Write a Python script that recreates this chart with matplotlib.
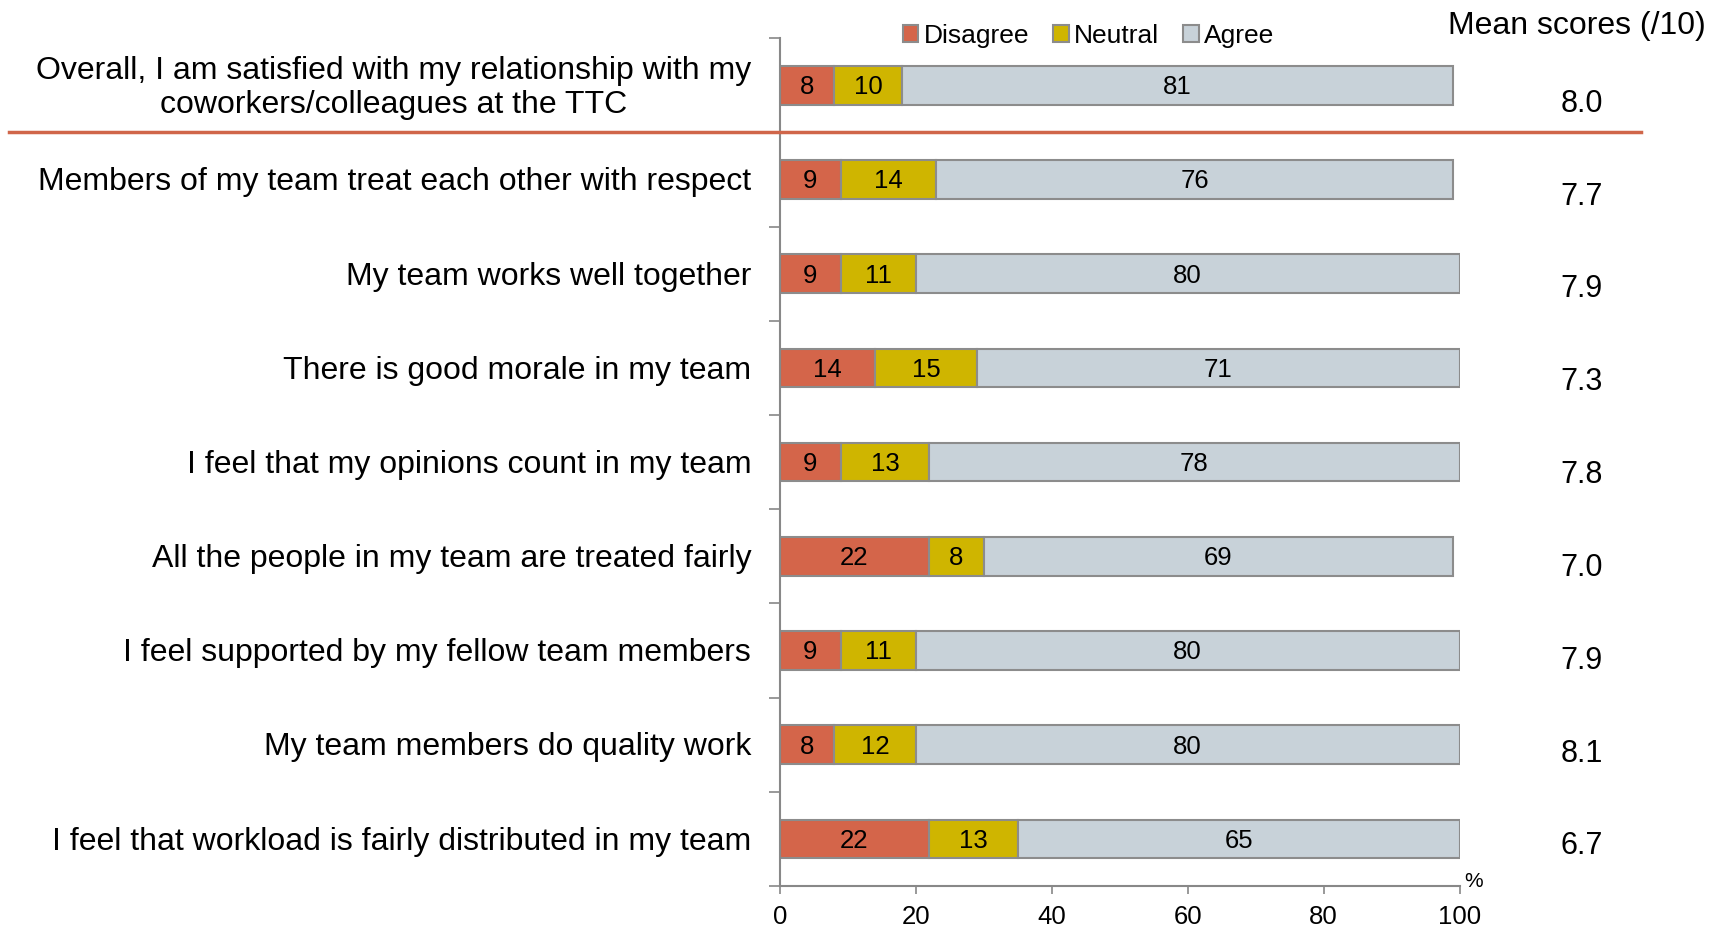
import matplotlib.pyplot as plt
import numpy as np

plt.rcParams['font.family'] = ['Liberation Sans', 'DejaVu Sans']

labels = [
    'Overall, I am satisfied with my relationship with my\ncoworkers/colleagues at the TTC',
    'Members of my team treat each other with respect',
    'My team works well together',
    'There is good morale in my team',
    'I feel that my opinions count in my team',
    'All the people in my team are treated fairly',
    'I feel supported by my fellow team members',
    'My team members do quality work',
    'I feel that workload is fairly distributed in my team',
]
disagree = [8, 9, 9, 14, 9, 22, 9, 8, 22]
neutral = [10, 14, 11, 15, 13, 8, 11, 12, 13]
agree = [81, 76, 80, 71, 78, 69, 80, 80, 65]
means = [8.0, 7.7, 7.9, 7.3, 7.8, 7.0, 7.9, 8.1, 6.7]

series = [('Disagree', disagree, '#D4654A'),
          ('Neutral', neutral, '#CFB500'),
          ('Agree', agree, '#C8D2D9')]

fig = plt.figure(figsize=(17.25, 9.32), dpi=100)
ax = fig.add_axes([0.452, 0.0494, 0.3942, 0.9096])

y = np.arange(len(labels))
left = np.zeros(len(labels))
for name, vals, col in series:
    vals = np.array(vals)
    ax.barh(y, vals, left=left, height=0.41, color=col, edgecolor='#8C8C8C',
            linewidth=1.5, label=name)
    for yi, l, v in zip(y, left, vals):
        ax.text(l + v / 2, yi + 0.02, str(v), ha='center', va='center', fontsize=18.5, color='black')
    left += vals

ax.set_ylim(len(labels) - 0.5, -0.5)
ax.set_xlim(0, 100)
ax.set_xticks([0, 20, 40, 60, 80, 100])
ax.tick_params(axis='x', labelsize=18.5, length=6, width=1.2, color='#888888', pad=8)
ax.set_yticks(np.arange(len(labels) + 1) - 0.5, minor=False)
ax.set_yticklabels([])
ax.tick_params(axis='y', length=8, width=1.2, color='#888888')
for s in ['top', 'right']:
    ax.spines[s].set_visible(False)
for s in ['left', 'bottom']:
    ax.spines[s].set_color('#888888')
    ax.spines[s].set_linewidth(1.5)

for yi, lab in zip(y, labels):
    ax.text(-4.2, yi + 0.03, lab, ha='right', va='center', multialignment='center',
            fontsize=23, linespacing=1.2)

# mean column sits slightly below each bar, drifting up toward the bottom
mean_y = 0.196 + y * 0.9854
for my, m in zip(mean_y, means):
    ax.text(117.9, my, f'{m:.1f}', ha='center', va='center', fontsize=22)
ax.text(117.3, -0.63, 'Mean scores (/10)', ha='center', va='center', fontsize=23)
ax.text(102, 8.45, '%', ha='center', va='center', fontsize=15)

# separator under the overall item
fig.add_artist(plt.Line2D([9 / 1725, 1641 / 1725], [1 - 132 / 932, 1 - 132 / 932],
                          color='#D0664A', linewidth=2.5))

leg = ax.legend(loc='center', bbox_to_anchor=(0.454, 1.003), ncol=3, frameon=False,
                fontsize=19, handlelength=0.6, handleheight=0.6, handletextpad=0.2,
                columnspacing=0.9, borderaxespad=0)

fig.savefig('out.png', dpi=100)
